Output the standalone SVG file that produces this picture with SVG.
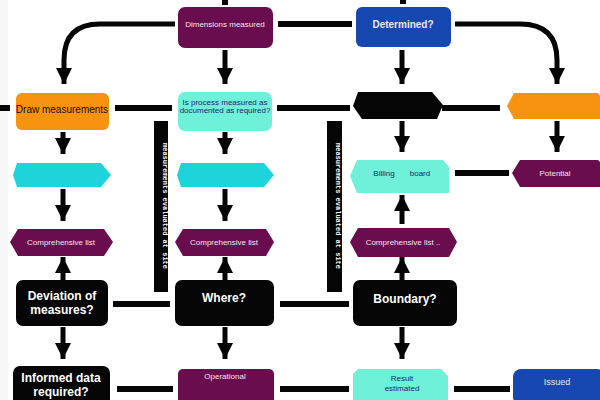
<svg xmlns="http://www.w3.org/2000/svg" width="600" height="400" viewBox="0 0 600 400">
<defs>
<marker id="ah" markerUnits="userSpaceOnUse" markerWidth="18" markerHeight="16" refX="16" refY="8" orient="auto">
<path d="M0,0 L16,8 L0,16 Z" fill="#050505"/>
</marker>
<style>
.bg{fill:#ffffff}
.ln{stroke:#050505;stroke-width:6;fill:none}
.ar{stroke:#050505;stroke-width:5;fill:none;marker-end:url(#ah)}
.pur{fill:#6a0d4f}
.blu{fill:#1747b0}
.org{fill:#f7930f}
.mnt{fill:#6ff0d8}
.trq{fill:#1fd3dc}
.blk{fill:#050505}
.t{font-family:"Liberation Sans",Arial,sans-serif;text-anchor:middle}
.sm{font-size:8px}
.lt{fill:#f0e6ee}
.dk{fill:#1a2a6a}
.wb{fill:#ffffff;font-weight:bold;font-size:12px}
.kb{fill:#111111;font-size:10px}
.vt{font-family:"Liberation Mono",monospace;font-size:7px;font-weight:bold;fill:#ffffff;text-anchor:middle}
</style>
</defs>
<rect class="bg" x="0" y="0" width="600" height="400"/>
<rect x="0" y="0" width="8" height="400" fill="#f7f7f7"/>

<g id="connectors">
<line class="ln" x1="225" y1="0" x2="225" y2="5"/>
<line class="ln" x1="403" y1="0" x2="403" y2="4"/>
<path class="ar" d="M175,24 H100 Q64,24 64,60 V84"/>
<path class="ar" d="M455,24 H520 Q557,24 557,60 V84"/>
<line class="ln" x1="278" y1="24" x2="352" y2="24"/>
<line class="ar" x1="225" y1="50" x2="225" y2="84"/>
<line class="ar" x1="402" y1="50" x2="402" y2="84"/>
<line class="ln" x1="0" y1="108" x2="10" y2="108"/>
<line class="ln" x1="115" y1="108" x2="172" y2="108"/>
<line class="ln" x1="277" y1="108" x2="350" y2="108"/>
<line class="ln" x1="442" y1="108" x2="500" y2="108"/>
<line class="ar" x1="63" y1="132" x2="63" y2="154"/>
<line class="ar" x1="225" y1="132" x2="225" y2="154"/>
<line class="ar" x1="402" y1="121" x2="402" y2="152"/>
<line class="ar" x1="557" y1="121" x2="557" y2="152"/>
<line class="ln" x1="455" y1="173" x2="509" y2="173"/>
<line class="ar" x1="63" y1="189" x2="63" y2="221"/>
<line class="ar" x1="225" y1="189" x2="225" y2="221"/>
<line class="ar" x1="402" y1="224" x2="402" y2="195"/>
<line class="ar" x1="63" y1="280" x2="63" y2="257"/>
<line class="ar" x1="225" y1="280" x2="225" y2="257"/>
<line class="ar" x1="402" y1="280" x2="402" y2="257"/>
<line class="ln" x1="113" y1="304" x2="170" y2="304"/>
<line class="ln" x1="280" y1="304" x2="349" y2="304"/>
<line class="ar" x1="63" y1="327" x2="63" y2="359"/>
<line class="ar" x1="225" y1="327" x2="225" y2="359"/>
<line class="ar" x1="402" y1="327" x2="402" y2="359"/>
<line class="ln" x1="117" y1="389" x2="173" y2="389"/>
<line class="ln" x1="280" y1="389" x2="349" y2="389"/>
<line class="ln" x1="454" y1="389" x2="510" y2="389"/>
</g>

<g id="bar1">
<rect class="blk" x="154" y="121" width="14" height="171"/>
<text class="vt" transform="translate(163,206) rotate(90)">measurements evaluated at site</text>
</g>
<g id="bar2">
<rect class="blk" x="327" y="121" width="15" height="171"/>
<text class="vt" transform="translate(336,206) rotate(90)">measurements evaluated at site</text>
</g>

<g id="n-top-purple">
<rect class="pur" x="178" y="7" width="95" height="41" rx="7"/>
<text class="t sm lt" x="225" y="27">Dimensions measured</text>
</g>
<g id="n-top-blue">
<rect class="blu" x="356" y="7" width="95" height="40" rx="6"/>
<text class="t lt" x="403" y="28" font-size="10" font-weight="bold">Determined?</text>
</g>

<g id="n-orange">
<rect class="org" x="16" y="93" width="93" height="37" rx="6"/>
<text class="t kb" x="62" y="113">Draw measurements</text>
</g>
<g id="n-cyan-mid">
<rect class="mnt" x="178" y="92" width="94" height="39" rx="7"/>
<text class="t sm dk" x="225" y="105">Is process measured as</text>
<text class="t sm dk" x="225" y="113">documented as required?</text>
</g>
<g id="n-black-hex">
<polygon class="blk" points="358,92 432,92 443,105 437,119 362,119 353,106"/>
</g>
<g id="n-orange-right">
<polygon class="org" points="514,93 598,93 600,96 600,119 514,119 507,106"/>
</g>

<g id="n-trq-left">
<polygon class="trq" points="17,163 101,163 111,175 101,187 17,187 13,175"/>
</g>
<g id="n-trq-mid">
<polygon class="trq" points="181,163 264,163 274,175 264,187 181,187 177,175"/>
</g>
<g id="n-mint-right">
<polygon class="mnt" points="357,160 443,160 449,167 449,193 357,193 350,176"/>
<text class="t sm dk" x="384" y="176">Billing</text>
<text class="t sm dk" x="420" y="176">board</text>
</g>
<g id="n-purple-right">
<polygon class="pur" points="520,160 598,160 600,162 600,187 520,187 512,173"/>
<text class="t sm lt" x="555" y="176">Potential</text>
</g>

<g id="n-pur-l4">
<polygon class="pur" points="18,229 104,229 113,242 104,256 18,256 10,242"/>
<text class="t sm lt" x="61" y="245">Comprehensive list</text>
</g>
<g id="n-pur-m4">
<polygon class="pur" points="183,229 266,229 274,242 266,256 183,256 175,242"/>
<text class="t sm lt" x="224" y="245">Comprehensive list</text>
</g>
<g id="n-pur-r4">
<polygon class="pur" points="358,228 449,228 457,242 449,257 358,257 350,242"/>
<text class="t sm lt" x="403" y="245">Comprehensive list ..</text>
</g>

<g id="n-blk-l5">
<rect class="blk" x="16" y="280" width="92" height="46" rx="7"/>
<text class="t wb" x="62" y="300">Deviation of</text>
<text class="t wb" x="62" y="314">measures?</text>
</g>
<g id="n-blk-m5">
<rect class="blk" x="175" y="280" width="99" height="46" rx="7"/>
<text class="t wb" x="224" y="302">Where?</text>
</g>
<g id="n-blk-r5">
<rect class="blk" x="353" y="280" width="104" height="46" rx="7"/>
<text class="t wb" x="405" y="303">Boundary?</text>
</g>

<g id="n-blk-l6">
<rect class="blk" x="13" y="366" width="97" height="40" rx="7"/>
<text class="t wb" x="61" y="382">Informed data</text>
<text class="t wb" x="61" y="396">required?</text>
</g>
<g id="n-pur-m6">
<rect class="pur" x="178" y="369" width="96" height="36" rx="5"/>
<text class="t sm lt" x="225" y="379">Operational</text>
</g>
<g id="n-mint-r6">
<polygon class="mnt" points="358,369 441,369 448,376 448,405 358,405 353,400 353,374"/>
<text class="t sm dk" x="402" y="381">Result</text>
<text class="t sm dk" x="402" y="391">estimated</text>
</g>
<g id="n-blue-r6">
<rect class="blu" x="513" y="369" width="92" height="36" rx="8"/>
<text class="t lt" x="557" y="385" font-size="9">Issued</text>
</g>
</svg>
